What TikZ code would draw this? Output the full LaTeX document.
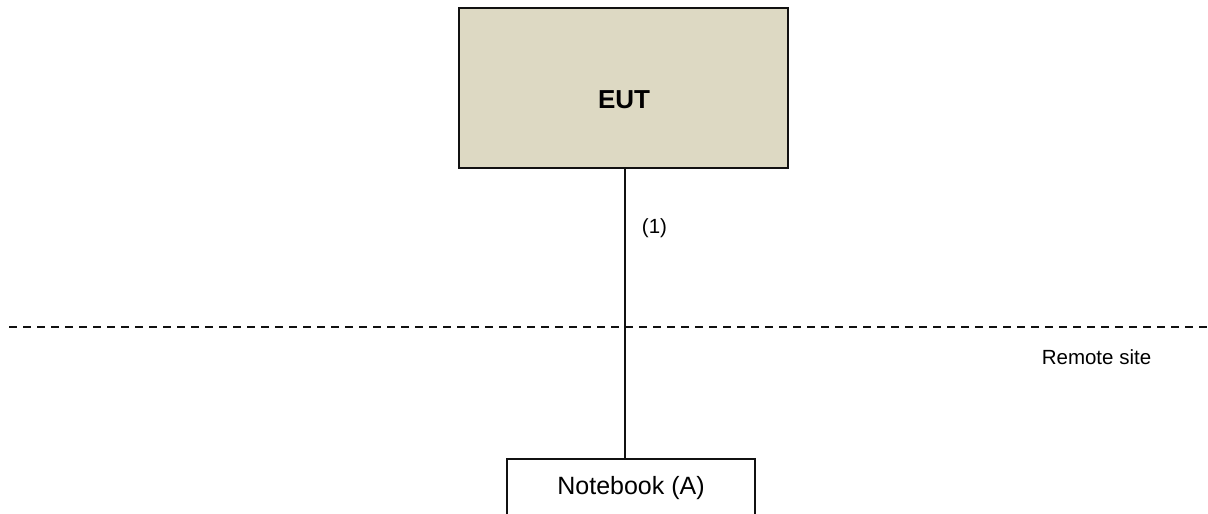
\documentclass[tikz,border=0pt]{standalone}
\usepackage{fontspec}
\setmainfont{Liberation Sans}
\definecolor{euttan}{HTML}{DDD9C3}
\definecolor{linegray}{HTML}{111111}
\begin{document}
\begin{tikzpicture}[x=1pt,y=-1pt,
  eutbox/.style={draw=linegray, line width=1.6pt, fill=euttan, minimum width=329pt, minimum height=160pt, inner sep=0pt},
  nbbox/.style={draw=linegray, line width=1.6pt, fill=white, minimum width=248pt, minimum height=58pt, inner sep=0pt, font=\fontsize{25}{30}\selectfont},
  lbl/.style={font=\fontsize{20.5}{24}\selectfont, inner sep=0pt},
  conn/.style={draw=linegray, line width=1.6pt},
  sep/.style={draw=linegray, line width=1.8pt, dash pattern=on 8.3pt off 5.7pt}]
\useasboundingbox (0,0) rectangle (1208,514);
\clip (0,0) rectangle (1208,514);
\node[eutbox] (eut) at (623.5,88) {};
\node[font=\bfseries\fontsize{26}{30}\selectfont, inner sep=0pt] (euttext) at (624,100) {EUT};
\node[nbbox] (nb) at (631,488) {Notebook (A)};
\coordinate (lx) at (625,0);
\draw[conn] (eut.south -| lx) -- (nb.north -| lx);
\coordinate (dl) at (9,327);
\coordinate (dr) at (1208,327);
\draw[sep] (dl) -- (dr);
\node[lbl] (one) at (654.5,228) {(1)};
\node[lbl] (remote) at (1096.5,357) {Remote site};
\end{tikzpicture}
\end{document}
